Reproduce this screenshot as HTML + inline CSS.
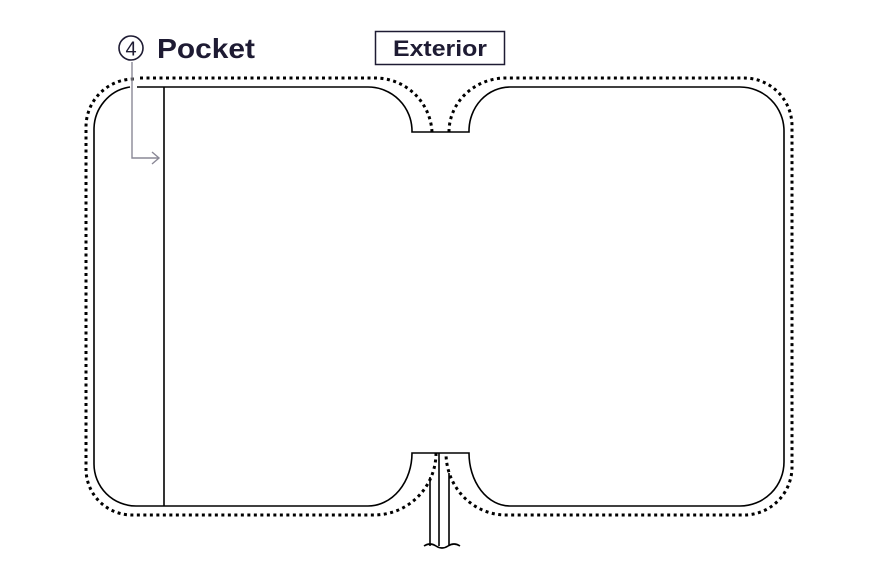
<!DOCTYPE html>
<html><head><style>body{margin:0;background:#fff}svg{display:block}</style></head><body>
<svg width="881" height="576" viewBox="0 0 881 576" xmlns="http://www.w3.org/2000/svg">
<circle cx="131" cy="48" r="12" fill="none" stroke="#1e1b33" stroke-width="1.6"/>
<text x="131" y="55.5" text-anchor="middle" font-family="Liberation Sans, sans-serif" font-size="20" fill="#1e1b33">4</text>
<text x="157" y="58" font-family="Liberation Sans, sans-serif" font-size="28" font-weight="bold" fill="#1e1b33" textLength="98" lengthAdjust="spacingAndGlyphs">Pocket</text>
<rect x="375.5" y="31.5" width="129" height="33" fill="#fff" stroke="#1e1b33" stroke-width="1.5"/>
<text x="393" y="56" font-family="Liberation Sans, sans-serif" font-size="22" font-weight="bold" fill="#1e1b33" textLength="94" lengthAdjust="spacingAndGlyphs">Exterior</text>
<g fill="none" stroke="#000" stroke-width="1.6">
<path d="M137,87 H368 A44,44 0 0 1 412,131 V132 H469 V131 A41,44 0 0 1 510,87 H740 A44,44 0 0 1 784,131 V462 A44,44 0 0 1 740,506 H510 A41,53 0 0 1 469,453 H412 A44,53 0 0 1 368,506 H136 A42,42 0 0 1 94,464 V130 A42,43 0 0 1 130,87"/>
<line x1="164" y1="87" x2="164" y2="506"/>
<line x1="430" y1="477" x2="430" y2="546"/>
<line x1="439" y1="453" x2="439" y2="546"/>
<line x1="449" y1="473" x2="449" y2="546"/>
<path d="M424,546 q6,-4 12,0 t12,0 t12,0"/>
</g>
<g fill="none" stroke="#000" stroke-width="3" stroke-dasharray="3 3.5">
<path d="M140,78 H375 A57,57 0 0 1 432,132"/>
<path d="M449,132 A57,54 0 0 1 505,78 H744 A48,48 0 0 1 792,126 V467 A48,48 0 0 1 744,515 H505 A60,62 0 0 1 446,453"/>
<path d="M436,453 A62,62 0 0 1 374,515 H132 A46,46 0 0 1 86,469 V127 A48,48 0 0 1 134,79"/>
</g>
<g fill="none" stroke="#8a8896" stroke-width="1.4">
<path d="M132,62 V158 H159"/>
<path d="M152,152 L159,158 L152,164"/>
</g>
</svg>
</body></html>
